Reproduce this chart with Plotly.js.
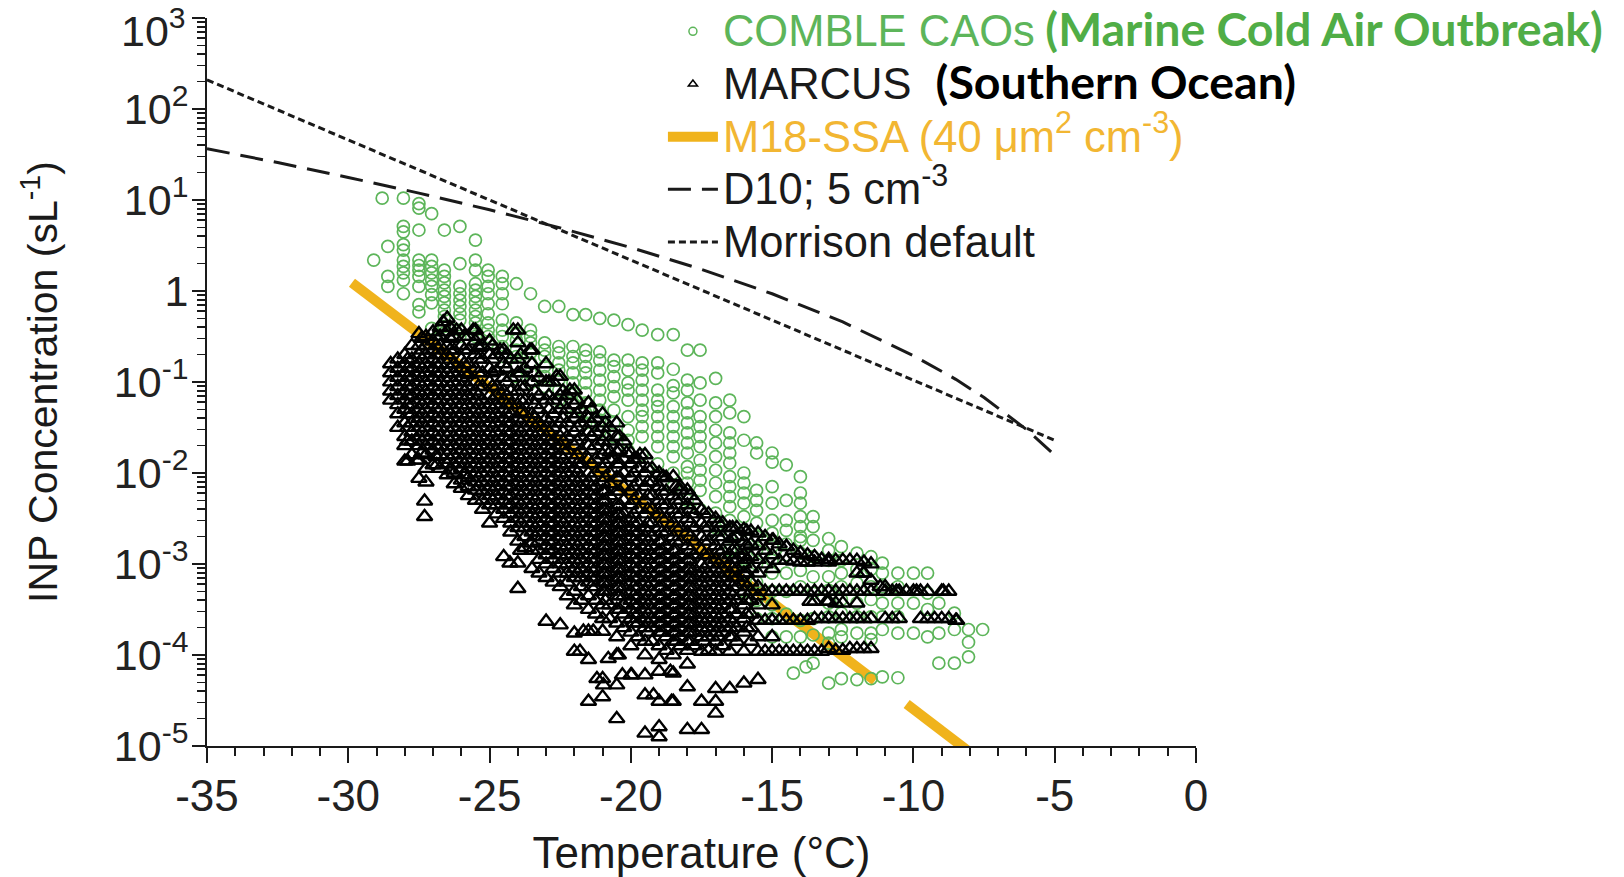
<!DOCTYPE html>
<html><head><meta charset="utf-8">
<script src="https://cdn.plot.ly/plotly-3.0.1.min.js"></script>
<style>html,body{margin:0;padding:0;background:#fff}#chart{width:1624px;height:877px}</style>
</head><body><div id="chart"></div>
<script>
// ---- Data (temperature in °C, concentration as log10(sL^-1)) ----
const combleTemps = [-29.1,-28.8,-28.6,-28.05,-27.5,-27.05,-26.6,-26.05,-25.5,-25.05,-24.55,-24.05,-23.55,-23.05,-22.55,-22.05,-21.6,-21.1,-20.6,-20.1,-19.6,-19.05,-18.5,-18.0,-17.55,-17.0,-16.5,-16.0,-15.55,-15.0,-14.5,-14.25,-14.0,-13.8,-13.55,-13.0,-12.55,-12.0,-11.5,-11.1,-10.55,-10.0,-9.5,-9.1,-8.55,-8.05,-7.55];
const combleLogConc = [
 [0.34],
 [1.02],
 [0.49,0.16,0.05],
 [1.02,0.71,0.65,0.51,0.45,0.34,0.27,0.2,0.12,-0.03],
 [0.96,0.91,0.67,0.34,0.28,0.23,0.16,0.05,-0.15,-0.23],
 [0.85,0.34,0.27,0.2,0.12,0.05,-0.04,-0.13,-0.41],
 [0.67,0.23,0.16,0.09,0.01,-0.06,-0.13,-0.21,-0.28,-0.39,-0.46],
 [0.71,0.3,0.05,-0.03,-0.1,-0.17,-0.25,-0.32,-0.43,-0.5],
 [0.56,0.34,0.23,0.08,0.01,-0.06,-0.13,-0.21,-0.28,-0.35,-0.43,-0.5],
 [0.23,0.16,0.05,-0.03,-0.14,-0.25,-0.35,-0.43,-0.5,-0.57],
 [0.16,0.08,-0.03,-0.14,-0.32,-0.43,-0.5,-0.61,-0.72],
 [0.08,-0.35,-0.46,-0.54,-0.65,-0.72,-0.83,-0.94],
 [-0.03,-0.43,-0.5,-0.57,-0.68,-0.79,-0.9,-1.01],
 [-0.17,-0.57,-0.65,-0.72,-0.83,-0.94,-1.05],
 [-0.17,-0.61,-0.68,-0.79,-0.87,-0.98,-1.09,-1.2],
 [-0.26,-0.61,-0.72,-0.79,-0.9,-1.01,-1.12,-1.23,-1.38],
 [-0.26,-0.65,-0.72,-0.83,-0.9,-1.01,-1.12,-1.23,-1.34,-1.45],
 [-0.3,-0.67,-0.76,-0.87,-0.98,-1.09,-1.2,-1.31,-1.42,-1.55],
 [-0.32,-0.76,-0.83,-0.94,-1.05,-1.16,-1.31,-1.45,-1.6],
 [-0.37,-0.76,-0.87,-1.01,-1.09,-1.2,-1.38,-1.53,-1.64,-1.75],
 [-0.43,-0.79,-0.87,-0.98,-1.09,-1.2,-1.31,-1.38,-1.49,-1.6,-1.8],
 [-0.48,-0.79,-0.9,-1.09,-1.2,-1.27,-1.38,-1.49,-1.6,-1.71,-1.9,-2.0],
 [-0.48,-0.86,-1.04,-1.12,-1.27,-1.38,-1.49,-1.6,-1.71,-1.82,-2.0,-2.15],
 [-0.65,-0.98,-1.09,-1.23,-1.34,-1.45,-1.56,-1.67,-1.78,-1.93,-2.0,-2.11,-2.3],
 [-0.65,-1.01,-1.2,-1.38,-1.49,-1.6,-1.71,-1.86,-1.97,-2.08,-2.19,-2.4],
 [-0.96,-1.23,-1.38,-1.53,-1.67,-1.82,-1.97,-2.11,-2.26,-2.44,-2.6],
 [-1.2,-1.34,-1.56,-1.67,-1.78,-1.89,-2.04,-2.15,-2.26,-2.37,-2.52,-2.7,-2.85],
 [-1.38,-1.64,-2.0,-2.11,-2.22,-2.33,-2.48,-2.63,-2.8,-2.95,-3.1,-3.3],
 [-1.67,-1.78,-2.19,-2.3,-2.41,-2.55,-2.7,-2.85,-3.0,-3.2,-3.4,-3.6],
 [-1.78,-1.88,-2.15,-2.33,-2.52,-2.66,-2.81,-2.96,-3.1,-3.3,-3.45,-3.6,-3.8],
 [-1.91,-2.3,-2.52,-2.63,-2.78,-2.9,-3.1,-3.3,-3.55,-3.8],
 [-4.2],
 [-2.04,-2.22,-2.33,-2.48,-2.59,-2.7,-2.74,-2.88,-3.07,-3.25,-3.62,-3.8],
 [-4.13],
 [-2.48,-2.59,-2.74,-2.92,-3.14,-3.32,-3.6,-3.78,-4.09],
 [-2.72,-2.85,-2.96,-3.14,-3.29,-3.43,-3.58,-3.76,-3.87,-4.31],
 [-2.81,-2.96,-3.1,-3.25,-3.39,-3.54,-3.72,-3.8,-4.26],
 [-2.88,-3.06,-3.21,-3.43,-3.58,-3.76,-4.27],
 [-2.92,-3.06,-3.25,-3.39,-3.58,-3.76,-3.83,-4.26],
 [-2.99,-3.1,-3.25,-3.43,-3.58,-3.72,-4.24],
 [-3.1,-3.25,-3.43,-3.58,-3.76,-4.25],
 [-3.1,-3.43,-3.76],
 [-3.1,-3.32,-3.5,-3.8],
 [-3.43,-3.76,-4.09],
 [-3.54,-3.72,-4.09],
 [-3.72,-3.86,-4.02],
 [-3.72]
];

const marcusTemps = [-28.5,-28.0,-27.5,-27.3,-27.0,-26.5,-26.0,-25.5,-25.0,-24.5,-24.0,-23.5,-23.0,-22.5,-22.0,-21.5,-21.0,-20.5,-20.0,-19.5,-19.0,-18.5,-18.0,-17.5,-17.0,-16.5,-16.0,-15.5,-15.0,-14.5,-14.0,-13.5,-13.0,-12.5,-12.0,-11.5,-11.0,-10.5,-10.0,-9.5,-9.0,-8.5];
const marcusLogConc = [
 [-0.8,-0.9,-1.0,-1.1,-1.2],
 [-0.7,-0.8,-0.9,-1.0,-1.1,-1.2,-1.3,-1.45,-1.6,-1.7,-1.87],
 [-0.47,-0.6,-0.7,-0.8,-0.9,-1.0,-1.1,-1.2,-1.3,-1.4,-1.5,-1.6,-1.7,-1.86,-2.06],
 [-2.31,-2.48],
 [-0.45,-0.55,-0.65,-0.75,-0.85,-0.95,-1.05,-1.15,-1.25,-1.35,-1.45,-1.55,-1.65,-1.75,-1.91],
 [-0.3,-0.45,-0.6,-0.7,-0.8,-0.9,-1.0,-1.1,-1.2,-1.3,-1.4,-1.5,-1.6,-1.7,-1.8,-1.9,-2.02],
 [-0.43,-0.6,-0.75,-0.85,-0.95,-1.05,-1.15,-1.25,-1.35,-1.45,-1.55,-1.65,-1.75,-1.85,-1.95,-2.08,-2.17],
 [-0.43,-0.55,-0.7,-0.85,-1.0,-1.1,-1.2,-1.3,-1.4,-1.5,-1.6,-1.7,-1.8,-1.9,-2.0,-2.1,-2.19,-2.3],
 [-0.55,-0.7,-0.85,-1.0,-1.15,-1.25,-1.35,-1.45,-1.55,-1.65,-1.75,-1.85,-1.95,-2.05,-2.15,-2.25,-2.35,-2.55],
 [-0.65,-0.8,-0.95,-1.1,-1.2,-1.3,-1.4,-1.5,-1.6,-1.7,-1.8,-1.9,-2.0,-2.1,-2.2,-2.3,-2.4,-2.5,-2.92],
 [-0.43,-0.57,-0.75,-0.9,-1.1,-1.25,-1.4,-1.5,-1.6,-1.7,-1.8,-1.9,-2.0,-2.1,-2.2,-2.3,-2.4,-2.5,-2.6,-2.75,-2.99,-3.27],
 [-0.65,-0.8,-1.0,-1.2,-1.35,-1.45,-1.55,-1.65,-1.75,-1.85,-1.95,-2.05,-2.15,-2.25,-2.35,-2.45,-2.55,-2.65,-2.77,-2.85,-3.05],
 [-0.8,-1.0,-1.2,-1.4,-1.5,-1.6,-1.7,-1.8,-1.9,-2.0,-2.1,-2.2,-2.3,-2.4,-2.5,-2.6,-2.7,-2.8,-2.9,-3.0,-3.15,-3.63],
 [-0.94,-1.15,-1.3,-1.45,-1.6,-1.7,-1.8,-1.9,-2.0,-2.1,-2.2,-2.3,-2.4,-2.5,-2.6,-2.7,-2.8,-2.9,-3.0,-3.1,-3.25,-3.67],
 [-1.09,-1.25,-1.4,-1.55,-1.7,-1.85,-1.95,-2.05,-2.15,-2.25,-2.35,-2.45,-2.55,-2.65,-2.75,-2.85,-2.95,-3.05,-3.15,-3.3,-3.45,-3.76,-3.96],
 [-1.23,-1.4,-1.55,-1.7,-1.85,-2.0,-2.1,-2.2,-2.3,-2.4,-2.5,-2.6,-2.7,-2.8,-2.9,-3.0,-3.1,-3.2,-3.35,-3.5,-3.74,-4.05,-4.51],
 [-1.35,-1.5,-1.65,-1.8,-1.95,-2.1,-2.2,-2.3,-2.4,-2.5,-2.6,-2.7,-2.8,-2.9,-3.0,-3.1,-3.2,-3.3,-3.45,-3.6,-3.74,-4.26,-4.46],
 [-1.45,-1.6,-1.77,-1.9,-2.05,-2.2,-2.35,-2.45,-2.55,-2.65,-2.75,-2.85,-2.95,-3.05,-3.15,-3.25,-3.35,-3.5,-3.65,-3.8,-4.0,-4.33,-4.7],
 [-1.78,-1.9,-2.05,-2.2,-2.35,-2.5,-2.6,-2.7,-2.8,-2.9,-3.0,-3.1,-3.2,-3.3,-3.4,-3.5,-3.6,-3.75,-3.9,-4.22],
 [-1.8,-2.0,-2.15,-2.3,-2.45,-2.6,-2.7,-2.8,-2.9,-3.0,-3.1,-3.2,-3.3,-3.4,-3.5,-3.6,-3.7,-3.85,-4.0,-4.22,-4.44,-4.86],
 [-2.0,-2.15,-2.3,-2.45,-2.6,-2.75,-2.85,-2.95,-3.05,-3.15,-3.25,-3.35,-3.45,-3.55,-3.65,-3.75,-3.9,-4.05,-4.18,-4.51,-4.79,-4.9],
 [-2.04,-2.25,-2.4,-2.55,-2.7,-2.85,-2.95,-3.05,-3.15,-3.25,-3.35,-3.45,-3.55,-3.65,-3.75,-3.85,-4.0,-4.2,-4.51],
 [-2.19,-2.35,-2.5,-2.65,-2.8,-2.95,-3.05,-3.15,-3.25,-3.35,-3.45,-3.55,-3.65,-3.75,-3.85,-3.95,-4.1,-4.35,-4.82],
 [-2.41,-2.55,-2.7,-2.85,-3.0,-3.1,-3.2,-3.3,-3.4,-3.5,-3.6,-3.7,-3.8,-3.96,-4.51,-4.82],
 [-2.5,-2.65,-2.8,-2.95,-3.05,-3.15,-3.25,-3.35,-3.45,-3.55,-3.65,-3.75,-3.85,-3.96,-4.37,-4.51,-4.64],
 [-2.6,-2.75,-2.9,-3.0,-3.1,-3.2,-3.3,-3.4,-3.5,-3.6,-3.7,-3.8,-3.96,-4.37],
 [-2.62,-2.75,-2.9,-3.0,-3.1,-3.2,-3.3,-3.45,-3.6,-3.75,-3.96,-4.31],
 [-2.66,-2.8,-2.95,-3.1,-3.25,-3.35,-3.45,-3.62,-3.8,-3.96,-4.27],
 [-2.74,-2.9,-3.05,-3.3,-3.45,-3.62,-3.8,-3.96],
 [-2.81,-2.96,-3.3,-3.62,-3.96],
 [-2.88,-2.98,-3.3,-3.62,-3.96],
 [-2.92,-2.98,-3.3,-3.41,-3.6,-3.96],
 [-2.95,-2.98,-3.3,-3.41,-3.6,-3.93],
 [-2.96,-3.3,-3.43,-3.6,-3.95],
 [-2.96,-3.1,-3.3,-3.43,-3.6,-3.93],
 [-3.0,-3.18,-3.3,-3.6,-3.93],
 [-3.25,-3.3,-3.6],
 [-3.3,-3.6],
 [-3.3],
 [-3.3,-3.6],
 [-3.3,-3.6],
 [-3.62]
];
// MARCUS points lying between the half-degree columns
const marcusMidTemps = [-28.25,-27.75,-27.25,-26.75,-26.25,-25.75,-25.25,-24.75,-24.25,-23.75,-23.25,-22.75,-22.25,-21.75,-21.25,-20.75,-20.25,-19.75,-19.25,-18.75,-18.25,-17.75,-17.25,-16.75,-16.25,-15.75,-15.25,-14.75,-14.25,-13.75,-13.25,-12.75,-12.25,-11.75,-10.75,-10.25,-9.75,-9.25,-8.75];
const marcusMidLogConc = [
 [-0.75,-0.85,-0.95,-1.05,-1.15,-1.25,-1.35,-1.5],
 [-0.6,-0.75,-0.85,-0.95,-1.05,-1.15,-1.25,-1.35,-1.45,-1.55,-1.65,-1.8],
 [-0.5,-0.6,-0.7,-0.8,-0.9,-1.0,-1.1,-1.2,-1.3,-1.4,-1.5,-1.6,-1.7,-1.8,-1.95,-2.1],
 [-0.4,-0.5,-0.6,-0.7,-0.8,-0.9,-1.0,-1.1,-1.2,-1.3,-1.4,-1.5,-1.6,-1.7,-1.8,-1.95],
 [-0.5,-0.65,-0.8,-0.9,-1.0,-1.1,-1.2,-1.3,-1.4,-1.5,-1.6,-1.7,-1.8,-1.9,-2.0,-2.12],
 [-0.5,-0.65,-0.8,-0.92,-1.05,-1.15,-1.25,-1.35,-1.45,-1.55,-1.65,-1.75,-1.85,-1.95,-2.05,-2.15,-2.25],
 [-0.6,-0.75,-0.9,-1.05,-1.2,-1.3,-1.4,-1.5,-1.6,-1.7,-1.8,-1.9,-2.0,-2.1,-2.2,-2.3,-2.4],
 [-0.7,-0.88,-1.05,-1.15,-1.25,-1.35,-1.45,-1.55,-1.65,-1.75,-1.85,-1.95,-2.05,-2.15,-2.25,-2.35,-2.45],
 [-0.75,-0.95,-1.1,-1.25,-1.35,-1.45,-1.55,-1.65,-1.75,-1.85,-1.95,-2.05,-2.15,-2.25,-2.35,-2.45,-2.55,-2.65],
 [-0.85,-1.05,-1.2,-1.35,-1.5,-1.6,-1.7,-1.8,-1.9,-2.0,-2.1,-2.2,-2.3,-2.4,-2.5,-2.6,-2.7,-2.82],
 [-0.95,-1.15,-1.3,-1.45,-1.55,-1.65,-1.75,-1.85,-1.95,-2.05,-2.15,-2.25,-2.35,-2.45,-2.55,-2.65,-2.75,-2.85,-2.95,-3.1],
 [-1.0,-1.2,-1.35,-1.5,-1.65,-1.75,-1.85,-1.95,-2.05,-2.15,-2.25,-2.35,-2.45,-2.55,-2.65,-2.75,-2.85,-2.95,-3.05,-3.2],
 [-1.15,-1.3,-1.45,-1.6,-1.75,-1.9,-2.0,-2.1,-2.2,-2.3,-2.4,-2.5,-2.6,-2.7,-2.8,-2.9,-3.0,-3.1,-3.2,-3.35],
 [-1.3,-1.45,-1.6,-1.75,-1.9,-2.05,-2.15,-2.25,-2.35,-2.45,-2.55,-2.65,-2.75,-2.85,-2.95,-3.05,-3.15,-3.25,-3.4],
 [-1.4,-1.55,-1.7,-1.85,-2.0,-2.15,-2.25,-2.35,-2.45,-2.55,-2.65,-2.75,-2.85,-2.95,-3.05,-3.15,-3.25,-3.4,-3.55],
 [-1.5,-1.65,-1.85,-2.0,-2.12,-2.25,-2.4,-2.5,-2.6,-2.7,-2.8,-2.9,-3.0,-3.1,-3.2,-3.3,-3.45,-3.6],
 [-1.65,-1.85,-2.0,-2.15,-2.3,-2.45,-2.55,-2.65,-2.75,-2.85,-2.95,-3.05,-3.15,-3.25,-3.35,-3.45,-3.55,-3.7],
 [-1.85,-1.95,-2.1,-2.25,-2.4,-2.55,-2.65,-2.75,-2.85,-2.95,-3.05,-3.15,-3.25,-3.35,-3.45,-3.55,-3.65,-3.8],
 [-1.95,-2.1,-2.25,-2.4,-2.55,-2.7,-2.8,-2.9,-3.0,-3.1,-3.2,-3.3,-3.4,-3.5,-3.6,-3.7,-3.85],
 [-2.05,-2.2,-2.35,-2.5,-2.65,-2.8,-2.9,-3.0,-3.1,-3.2,-3.3,-3.4,-3.5,-3.6,-3.7,-3.8,-3.95],
 [-2.15,-2.3,-2.45,-2.6,-2.75,-2.9,-3.0,-3.1,-3.2,-3.3,-3.4,-3.5,-3.6,-3.7,-3.8,-3.9],
 [-2.3,-2.45,-2.6,-2.75,-2.9,-3.05,-3.15,-3.25,-3.35,-3.45,-3.55,-3.65,-3.75,-3.9],
 [-2.45,-2.6,-2.75,-2.9,-3.0,-3.1,-3.2,-3.3,-3.4,-3.5,-3.6,-3.7,-3.8,-3.95],
 [-2.55,-2.7,-2.85,-2.95,-3.05,-3.15,-3.25,-3.35,-3.45,-3.55,-3.65,-3.75,-3.9],
 [-2.6,-2.7,-2.85,-2.95,-3.05,-3.15,-3.25,-3.4,-3.55,-3.7,-3.85],
 [-2.64,-2.78,-2.92,-3.05,-3.2,-3.3,-3.4,-3.55,-3.7,-3.85],
 [-2.7,-2.85,-3.0,-3.3,-3.62,-3.96],
 [-2.78,-2.96,-3.3,-3.62,-3.96],
 [-2.85,-2.97,-3.3,-3.62,-3.96],
 [-2.9,-2.98,-3.3,-3.62,-3.96],
 [-2.95,-3.3,-3.6,-3.96],
 [-2.96,-3.3,-3.43,-3.6,-3.95],
 [-2.96,-3.3,-3.6,-3.93],
 [-2.98,-3.1,-3.3,-3.6,-3.93],
 [-3.3,-3.6],
 [-3.3],
 [-3.3,-3.6],
 [-3.6],
 [-3.3,-3.6]
];
// MARCUS points filling the dense core of the cloud
const marcusCoreTemps = [-27.9,-27.4,-26.9,-26.4,-25.9,-25.4,-24.9,-24.4,-23.9,-23.4,-22.9,-22.4,-21.9,-21.4,-20.9,-20.4,-19.9,-19.4,-18.9,-18.4,-17.9,-17.4,-16.9,-16.4,-15.9];
const marcusCoreLogConc = [
 [-0.75,-0.85,-0.95,-1.05,-1.15,-1.25,-1.35,-1.5,-1.65],
 [-0.52,-0.65,-0.75,-0.85,-0.95,-1.05,-1.15,-1.25,-1.35,-1.45,-1.55,-1.65,-1.78],
 [-0.5,-0.6,-0.7,-0.8,-0.9,-1.0,-1.1,-1.2,-1.3,-1.4,-1.5,-1.6,-1.7,-1.82],
 [-0.4,-0.52,-0.65,-0.75,-0.85,-0.95,-1.05,-1.15,-1.25,-1.35,-1.45,-1.55,-1.65,-1.75,-1.85,-1.97],
 [-0.5,-0.65,-0.8,-0.9,-1.0,-1.1,-1.2,-1.3,-1.4,-1.5,-1.6,-1.7,-1.8,-1.9,-2.02],
 [-0.5,-0.62,-0.75,-0.9,-1.05,-1.15,-1.25,-1.35,-1.45,-1.55,-1.65,-1.75,-1.85,-1.95,-2.05,-2.15],
 [-0.6,-0.75,-0.9,-1.05,-1.2,-1.3,-1.4,-1.5,-1.6,-1.7,-1.8,-1.9,-2.0,-2.1,-2.2,-2.3],
 [-0.7,-0.85,-1.0,-1.15,-1.25,-1.35,-1.45,-1.55,-1.65,-1.75,-1.85,-1.95,-2.05,-2.15,-2.25,-2.35],
 [-0.7,-0.9,-1.05,-1.2,-1.33,-1.45,-1.55,-1.65,-1.75,-1.85,-1.95,-2.05,-2.15,-2.25,-2.35,-2.45,-2.55],
 [-0.9,-1.1,-1.25,-1.4,-1.5,-1.6,-1.7,-1.8,-1.9,-2.0,-2.1,-2.2,-2.3,-2.4,-2.5,-2.6,-2.7],
 [-1.0,-1.15,-1.3,-1.45,-1.55,-1.65,-1.75,-1.85,-1.95,-2.05,-2.15,-2.25,-2.35,-2.45,-2.55,-2.65,-2.75,-2.85],
 [-1.1,-1.25,-1.4,-1.55,-1.65,-1.75,-1.85,-1.95,-2.05,-2.15,-2.25,-2.35,-2.45,-2.55,-2.65,-2.75,-2.85,-2.95],
 [-1.2,-1.35,-1.5,-1.65,-1.8,-1.9,-2.0,-2.1,-2.2,-2.3,-2.4,-2.5,-2.6,-2.7,-2.8,-2.9,-3.0,-3.1],
 [-1.3,-1.45,-1.6,-1.75,-1.9,-2.05,-2.15,-2.25,-2.35,-2.45,-2.55,-2.65,-2.75,-2.85,-2.95,-3.05,-3.15,-3.25],
 [-1.45,-1.6,-1.75,-1.9,-2.05,-2.2,-2.3,-2.4,-2.5,-2.6,-2.7,-2.8,-2.9,-3.0,-3.1,-3.2,-3.3,-3.4],
 [-1.6,-1.75,-1.9,-2.05,-2.2,-2.35,-2.45,-2.55,-2.65,-2.75,-2.85,-2.95,-3.05,-3.15,-3.25,-3.35,-3.5],
 [-1.85,-2.0,-2.15,-2.3,-2.45,-2.55,-2.65,-2.75,-2.85,-2.95,-3.05,-3.15,-3.25,-3.35,-3.45,-3.55,-3.65],
 [-1.95,-2.1,-2.25,-2.4,-2.55,-2.65,-2.75,-2.85,-2.95,-3.05,-3.15,-3.25,-3.35,-3.45,-3.55,-3.65,-3.75],
 [-2.05,-2.2,-2.35,-2.5,-2.65,-2.75,-2.85,-2.95,-3.05,-3.15,-3.25,-3.35,-3.45,-3.55,-3.65,-3.75],
 [-2.15,-2.3,-2.45,-2.6,-2.75,-2.85,-2.95,-3.05,-3.15,-3.25,-3.35,-3.45,-3.55,-3.65,-3.75,-3.85],
 [-2.25,-2.4,-2.55,-2.7,-2.85,-2.95,-3.05,-3.15,-3.25,-3.35,-3.45,-3.55,-3.65,-3.75,-3.85],
 [-2.45,-2.6,-2.75,-2.9,-3.05,-3.15,-3.25,-3.35,-3.45,-3.55,-3.65,-3.75,-3.85],
 [-2.55,-2.7,-2.85,-3.0,-3.1,-3.2,-3.3,-3.4,-3.5,-3.6,-3.7,-3.8],
 [-2.6,-2.72,-2.85,-2.95,-3.05,-3.15,-3.25,-3.35,-3.5,-3.65,-3.8],
 [-2.64,-2.8,-2.95,-3.1,-3.25,-3.4,-3.55,-3.7]
];
// scattered MARCUS points off the grid
const marcusExtraTemps = [-26.64,-26.17,-25.58,-24.16,-24.63,-23.57,-22.63,-22.16,-20.74,-20.15,-19.68,-18.85,-18.26,-27.9,-27.58,-26.87,-24.28,-23.9,-21.68,-21.33,-21.8,-20.8,-20.44,-21.2,-20.97,-20.3,-19.97,-19.2,-18.56,-18.6,-14.96,-14.49,-11.77,-11.18,-10.6,-9.89,-8.94,-8.47,-13.66,-13.07];
const marcusExtraLogConc = [-0.34,-0.43,-0.43,-0.43,-0.65,-0.65,-0.94,-1.09,-1.77,-1.78,-1.8,-2.04,-2.19,-1.87,-1.86,-1.91,-2.99,-2.85,-3.74,-3.74,-3.96,-4.04,-4.0,-4.26,-4.33,-4.22,-4.22,-4.44,-4.51,-4.18,-2.74,-2.81,-3.1,-3.25,-3.3,-3.3,-3.3,-3.62,-3.41,-3.41];

// Parameterisations
const m18Temps = [-29.87,-25,-20,-15,-11.36,null,-10.24,-8.1];
const m18Conc  = [1.23,0.087,0.0057,3.7e-4,5.2e-5,null,2.9e-5,9e-6];
const d10Temps = [-35,-32.5,-30,-27.5,-25,-22.5,-20,-17.5,-15,-12.5,-10,-9,-8.5,-7.5,-6,-5];
const d10Conc  = [36.6,25.8,17.7,11.9,7.81,4.94,3.0,1.73,0.932,0.457,0.195,0.132,0.107,0.0674,0.0301,0.0157];
const morrTemps = [-35,-30,-25,-20,-15,-10,-5];
const morrConc  = [209,45.6,9.99,2.19,0.478,0.105,0.0229];

const xTickVals = [-35,-30,-25,-20,-15,-10,-5,0];
const xTickText = ['-35','-30','-25','-20','-15','-10','-5','0'];
const yTickVals = [1e-5,1e-4,1e-3,1e-2,1e-1,1,10,100,1000];
const yTickText = ['10<sup>-5</sup>','10<sup>-4</sup>','10<sup>-3</sup>','10<sup>-2</sup>','10<sup>-1</sup>','1','10<sup>1</sup>','10<sup>2</sup>',''];
const yTopLabel = '10<sup>3</sup>';

// ---- build ----
function flat(temps, logs, out) {
  temps.forEach((t, i) => logs[i].forEach(v => { out.x.push(t); out.y.push(Math.pow(10, v)); }));
  return out;
}
const comble = flat(combleTemps, combleLogConc, {x: [], y: []});
const marcus = {x: [], y: []};
flat(marcusTemps, marcusLogConc, marcus);
flat(marcusMidTemps, marcusMidLogConc, marcus);
flat(marcusCoreTemps, marcusCoreLogConc, marcus);
marcusExtraTemps.forEach((t, i) => { marcus.x.push(t); marcus.y.push(Math.pow(10, marcusExtraLogConc[i])); });

const minorY = [];
for (let e = -5; e < 3; e++) for (let m = 2; m <= 9; m++) minorY.push(m * Math.pow(10, e));

const FONT = '"Liberation Sans", Arial, sans-serif';
const GREEN = '#5DB55A', GREEN_B = '#50AD46', ORANGE = '#F0B31C', ORANGE_T = '#F2B632', INK = '#1a1a1a';
const REG = 'font-size:43.5px';
const BOLD = 'font-family:Lato,sans-serif;font-weight:bold;font-size:46.5px';

const traces = [
  {x: morrTemps, y: morrConc, mode: 'lines', name: '<span style="' + REG + '">Morrison default</span>',
   line: {color: INK, width: 3, dash: '7px,4px'}, legendrank: 5, hoverinfo: 'skip'},
  {x: d10Temps, y: d10Conc, mode: 'lines', name: '<span style="' + REG + '">D10; 5 cm<sup>-3</sup></span>',
   line: {color: INK, width: 3, dash: '23px,11px'}, legendrank: 4, hoverinfo: 'skip'},
  {x: m18Temps, y: m18Conc, mode: 'lines', connectgaps: false,
   name: '<span style="' + REG + ';color:' + ORANGE_T + '">M18-SSA (40 μm<sup>2</sup> cm<sup>-3</sup>)</span>',
   line: {color: ORANGE, width: 10}, legendrank: 3, hoverinfo: 'skip'},
  {x: comble.x, y: comble.y, mode: 'markers', showlegend: false,
   marker: {symbol: 'circle-open', size: 12, color: GREEN, line: {width: 1.7}}},
  {x: marcus.x, y: marcus.y, mode: 'markers', showlegend: false,
   marker: {symbol: 'triangle-up-open', size: 13.5, color: '#000', line: {width: 2.4}}},
  // legend entries for the scatter series (small symbols as in the original legend)
  {x: [null], y: [null], mode: 'markers', legendrank: 1,
   name: '<span style="' + REG + ';color:' + GREEN + '">COMBLE CAOs</span> <span style="' + BOLD + ';color:' + GREEN_B + '">(Marine Cold Air Outbreak)</span>',
   marker: {symbol: 'circle-open', size: 8, color: GREEN, line: {width: 1.5}}},
  {x: [null], y: [null], mode: 'markers', legendrank: 2,
   name: '<span style="' + REG + '">MARCUS\u00a0 </span><span style="' + BOLD + ';color:#000">(Southern Ocean)</span>',
   marker: {symbol: 'triangle-up-open', size: 8, color: '#000', line: {width: 1.5}}}
];

const axisCommon = {
  showline: true, linewidth: 2, linecolor: INK, mirror: false,
  ticks: 'outside', tickwidth: 2, tickcolor: INK,
  showgrid: false, zeroline: false
};

const layout = {
  width: 1624, height: 877,
  margin: {l: 207, r: 428, t: 18, b: 131, pad: 0, autoexpand: false},
  paper_bgcolor: '#fff', plot_bgcolor: '#fff',
  font: {family: FONT, size: 42, color: INK},
  showlegend: true,
  hovermode: false,
  xaxis: Object.assign({}, axisCommon, {
    range: [-35, 0], tickmode: 'array', tickvals: xTickVals, ticktext: xTickText,
    ticklen: 15, tickfont: {family: FONT, size: 44, color: '#222'}, ticklabelstandoff: -5,
    minor: {tickmode: 'linear', tick0: -35, dtick: 1, ticks: 'outside', ticklen: 8, tickwidth: 2, tickcolor: INK, showgrid: false},
    title: {text: 'Temperature (°C)', font: {family: FONT, size: 44, color: INK}, standoff: 20}
  }),
  yaxis: Object.assign({}, axisCommon, {
    type: 'log', range: [-5, 3], tickmode: 'array', tickvals: yTickVals, ticktext: yTickText,
    ticklen: 13, tickfont: {family: FONT, size: 43, color: '#222'},
    ticklabeloverflow: 'allow', ticklabelstandoff: -5,
    minor: {tickmode: 'array', tickvals: minorY, ticks: 'outside', ticklen: 8, tickwidth: 1.5, tickcolor: INK, showgrid: false},
    title: {text: 'INP Concentration (sL<sup>-1</sup>)', font: {family: FONT, size: 41, color: INK}, standoff: 43}
  }),
  annotations: [
    {text: yTopLabel, xref: 'paper', yref: 'paper', x: -0.0192, y: 0.9863, xanchor: 'right', yanchor: 'middle',
     showarrow: false, font: {family: FONT, size: 43, color: '#222'}}
  ],
  legend: {
    x: 0.461, xanchor: 'left', y: 1.0247, yanchor: 'top',
    bgcolor: 'rgba(0,0,0,0)', borderwidth: 0,
    font: {family: FONT, size: 38.2, color: INK},
    itemwidth: 50, tracegroupgap: 0, traceorder: 'normal'
  }
};

Plotly.newPlot('chart', traces, layout, {displayModeBar: false, staticPlot: true});
</script>
</body></html>
